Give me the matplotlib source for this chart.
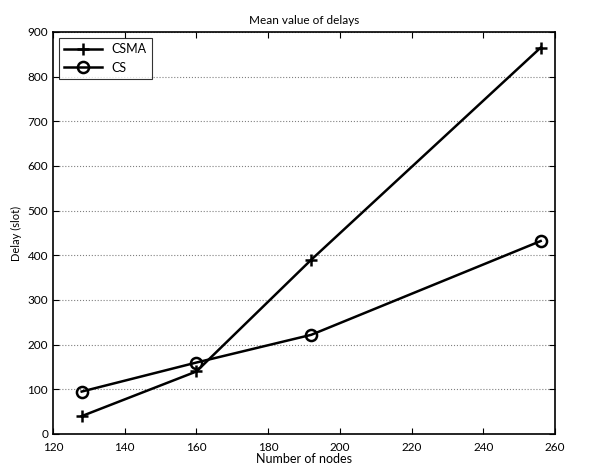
import matplotlib
matplotlib.use("Agg")
from matplotlib import pyplot as plt

nodes = [128, 160, 192, 256]
csma = [40, 140, 390, 865]
cs = [95, 160, 222, 432]

plt.rcParams['font.family'] = ['Lato', 'DejaVu Sans']
plt.rcParams['font.size'] = 8.5

fig = plt.figure(figsize=(6.12, 4.72), dpi=100)
ax = fig.add_axes([53/612, 38/472, 502/612, 402/472])

ax.plot(nodes, csma, color='black', lw=1.8, marker='+', ms=9, mew=1.8, label='CSMA')
ax.plot(nodes, cs, color='black', lw=1.8, marker='o', ms=8, mew=1.8, mfc='none', label='CS')

ax.set_xlim(120, 260)
ax.set_ylim(0, 900)
ax.set_xticks(range(120, 261, 20))
ax.set_yticks(range(0, 901, 100))
ax.yaxis.grid(True, linestyle=':', color='gray', lw=0.8)
ax.tick_params(direction='in', top=True, right=True, length=4)
ax.tick_params(axis='x', pad=6)
for s in ax.spines.values():
    s.set_linewidth(1.2)

ax.set_title('Mean value of delays', fontsize=8.5)
ax.set_xlabel('Number of nodes', fontsize=9, labelpad=0)
ax.set_ylabel('Delay (slot)', fontsize=8)

leg = ax.legend(loc='upper left', fancybox=False, edgecolor='black', handlelength=3,
                borderaxespad=0.5, fontsize=9)
leg.get_frame().set_linewidth(0.8)

fig.savefig('out.png', dpi=100)
